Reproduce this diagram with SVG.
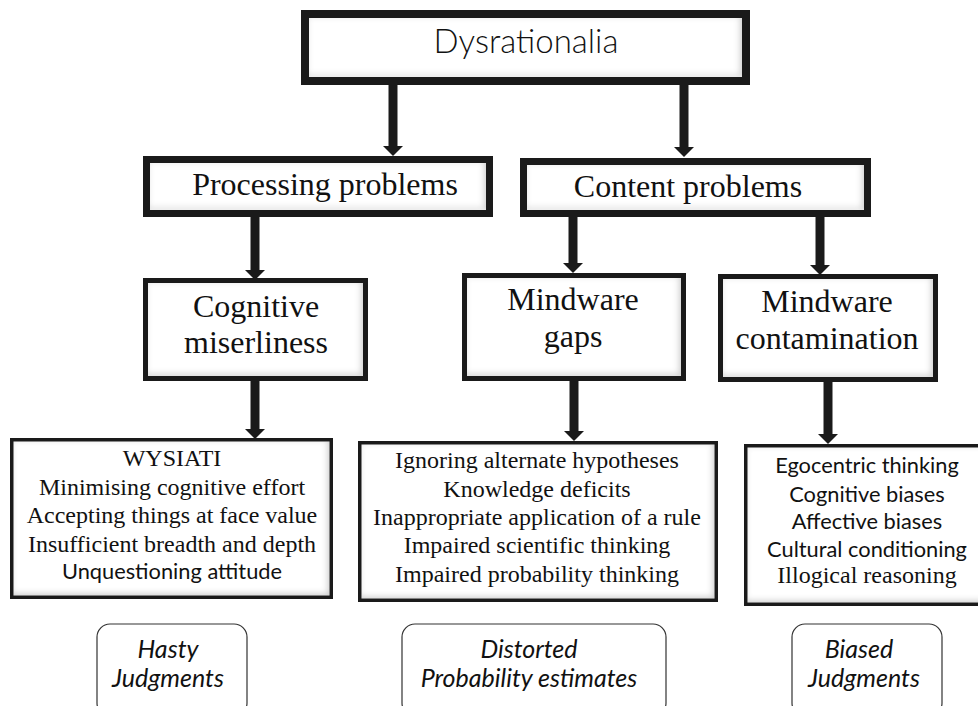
<svg xmlns="http://www.w3.org/2000/svg" width="978" height="706" viewBox="0 0 978 706">
<style>
  .box { fill: none; stroke: #1a1a1a; }
  .fill { fill: #ffffff; filter: url(#inset); }
  .serif { font-family: "Liberation Serif", "Times New Roman", serif; fill: #111; text-anchor: middle; }
  .sans { font-family: Lato, "Open Sans", "Liberation Sans", sans-serif; fill: #111; text-anchor: middle; }
  .title { font-family: Lato, "Open Sans", "Liberation Sans", sans-serif; font-weight: 300; fill: #111; text-anchor: middle; font-size: 33px; }
  .big { font-size: 32px; }
  .mid { font-size: 24px; }
  .sm { font-size: 21.8px; }
  .ital { font-family: Lato, "Open Sans", "Liberation Sans", sans-serif; font-style: italic; fill: #111; text-anchor: middle; font-size: 25px; }
  .pill { fill: #fff; stroke: #333; stroke-width: 1.2; }
  .conn line { stroke: #1a1a1a; stroke-width: 9; marker-end: url(#ah); }
</style>
<defs>
  <filter id="inset" x="-5%" y="-5%" width="110%" height="110%">
    <feFlood flood-color="#000" flood-opacity="0.4" result="f"/>
    <feComposite in="f" in2="SourceAlpha" operator="out" result="o"/>
    <feGaussianBlur in="o" stdDeviation="3" result="b"/>
    <feOffset in="b" dx="-2.5" dy="-2.5" result="s"/>
    <feComposite in="s" in2="SourceAlpha" operator="in" result="i"/>
    <feMerge><feMergeNode in="SourceGraphic"/><feMergeNode in="i"/></feMerge>
  </filter>
  <marker id="ah" viewBox="0 0 10 20" refX="0" refY="10" markerWidth="10" markerHeight="20" markerUnits="userSpaceOnUse" orient="auto">
    <path d="M0,0 L10,10 L0,20 z" fill="#1a1a1a"/>
  </marker>
</defs>
<rect width="978" height="706" fill="#fff"/>

<g id="connectors" class="conn">
  <line x1="393" y1="85" x2="393" y2="146"/>
  <line x1="684" y1="85" x2="684" y2="147"/>
  <line x1="255" y1="217" x2="255" y2="270"/>
  <line x1="573" y1="217" x2="573" y2="263"/>
  <line x1="820" y1="217" x2="820" y2="265"/>
  <line x1="255" y1="381" x2="255" y2="429"/>
  <line x1="574" y1="381" x2="574" y2="431"/>
  <line x1="828" y1="382" x2="828" y2="434"/>
</g>

<g id="dysrationalia">
  <rect class="fill" x="309" y="18" width="433" height="59"/>
  <rect class="box" x="305" y="14" width="441" height="67" stroke-width="8"/>
  <text class="title" x="526" y="53">Dysrationalia</text>
</g>

<g id="processing">
  <rect class="fill" x="150" y="163" width="336" height="47"/>
  <rect class="box" x="146.5" y="159.5" width="343" height="54" stroke-width="7"/>
  <text class="serif big" x="325" y="195">Processing problems</text>
</g>

<g id="content">
  <rect class="fill" x="527" y="165" width="337" height="45"/>
  <rect class="box" x="523.5" y="161.5" width="344" height="52" stroke-width="7"/>
  <text class="serif big" x="688" y="197">Content problems</text>
</g>

<g id="cognitive-miserliness">
  <rect class="fill" x="148" y="283" width="215" height="93"/>
  <rect class="box" x="145.5" y="280.5" width="220" height="98" stroke-width="5"/>
  <text class="serif big" x="256" y="317">Cognitive</text>
  <text class="serif big" x="256" y="353">miserliness</text>
</g>

<g id="mindware-gaps">
  <rect class="fill" x="467" y="278" width="214" height="98"/>
  <rect class="box" x="464.5" y="275.5" width="219" height="103" stroke-width="5"/>
  <text class="serif big" x="573" y="310">Mindware</text>
  <text class="serif big" x="573" y="347">gaps</text>
</g>

<g id="mindware-contamination">
  <rect class="fill" x="723" y="279" width="210" height="98"/>
  <rect class="box" x="720.5" y="276.5" width="215" height="103" stroke-width="5"/>
  <text class="serif big" x="827" y="312">Mindware</text>
  <text class="serif big" x="827" y="349">contamination</text>
</g>

<g id="miserliness-list">
  <rect class="fill" x="13.5" y="441.5" width="316" height="154"/>
  <rect class="box" x="11.75" y="439.75" width="319.5" height="157.5" stroke-width="3.5"/>
  <text class="serif mid" x="172" y="466">WYSIATI</text>
  <text class="serif mid" x="172" y="495">Minimising cognitive effort</text>
  <text class="serif mid" x="172" y="523">Accepting things at face value</text>
  <text class="serif mid" x="172" y="552">Insufficient breadth and depth</text>
  <text class="sans sm" x="172" y="579">Unquestioning attitude</text>
</g>

<g id="gaps-list">
  <rect class="fill" x="361.5" y="444.5" width="353" height="154"/>
  <rect class="box" x="359.75" y="442.75" width="356.5" height="157.5" stroke-width="3.5"/>
  <text class="serif mid" x="537" y="468">Ignoring alternate hypotheses</text>
  <text class="serif mid" x="537" y="497">Knowledge deficits</text>
  <text class="serif mid" x="537" y="525">Inappropriate application of a rule</text>
  <text class="serif mid" x="537" y="553">Impaired scientific thinking</text>
  <text class="serif mid" x="537" y="582">Impaired probability thinking</text>
</g>

<g id="contamination-list">
  <rect class="fill" x="747.5" y="447.5" width="240.5" height="155"/>
  <rect class="box" x="745.75" y="445.75" width="244" height="158.5" stroke-width="3.5"/>
  <text class="sans sm" x="867" y="473">Egocentric thinking</text>
  <text class="sans sm" x="867" y="502">Cognitive biases</text>
  <text class="sans sm" x="867" y="529">Affective biases</text>
  <text class="sans sm" x="867" y="557">Cultural conditioning</text>
  <text class="serif mid" x="867" y="583">Illogical reasoning</text>
</g>

<g id="hasty">
  <rect class="pill" x="97" y="624" width="150" height="92" rx="13"/>
  <text class="ital" x="168" y="658">Hasty</text>
  <text class="ital" x="168" y="687">Judgments</text>
</g>

<g id="distorted">
  <rect class="pill" x="402" y="624" width="264" height="92" rx="13"/>
  <text class="ital" x="529" y="658">Distorted</text>
  <text class="ital" x="529" y="687">Probability estimates</text>
</g>

<g id="biased">
  <rect class="pill" x="792" y="624" width="150" height="92" rx="13"/>
  <text class="ital" x="859" y="658">Biased</text>
  <text class="ital" x="864" y="687">Judgments</text>
</g>
</svg>
